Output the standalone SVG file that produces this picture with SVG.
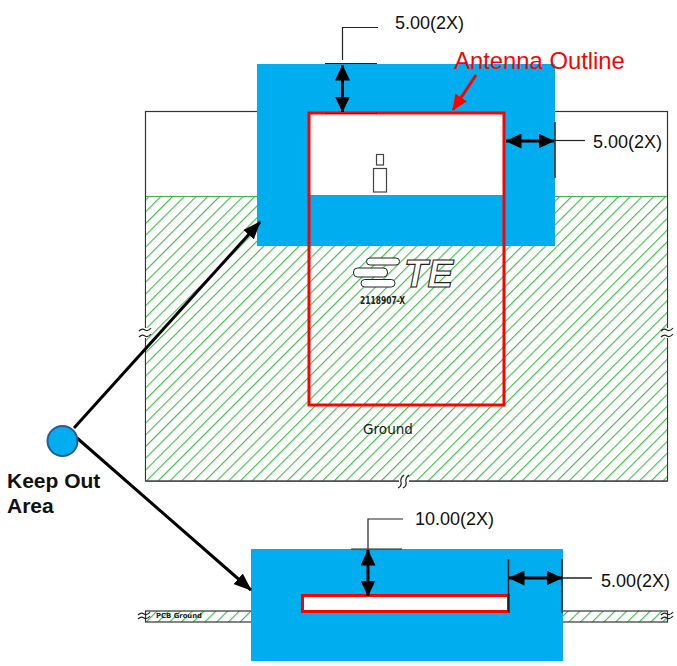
<svg xmlns="http://www.w3.org/2000/svg" width="677" height="666" viewBox="0 0 677 666">
<style>
.dim{font-family:"Liberation Sans",Arial,sans-serif;font-size:18px;fill:#111}
.cad{font-family:"DejaVu Sans",sans-serif;fill:#222}
.blue{fill:#00aeef}
.red{fill:none;stroke:#f00;stroke-width:3}
.thin{fill:none;stroke:#222;stroke-width:1.2}
.ext{fill:none;stroke:#222;stroke-width:1.5}
.dimline{stroke:#000;stroke-width:3;fill:none;marker-start:url(#ah);marker-end:url(#ah)}
.lead{stroke:#000;stroke-width:3;fill:none;marker-end:url(#lh)}
.bar{fill:#fff;stroke:#222;stroke-width:1}
</style>
<defs>
<pattern id="hatch" patternUnits="userSpaceOnUse" width="8.3" height="8.3" patternTransform="rotate(-45 145 481)">
<rect width="8.3" height="8.3" fill="#fff"/>
<line x1="0" y1="0.6" x2="8.3" y2="0.6" stroke="#3fb54a" stroke-width="1.1"/>
</pattern>
<marker id="ah" viewBox="0 0 16 15" refX="15.5" refY="7.5" markerUnits="userSpaceOnUse" markerWidth="16" markerHeight="15" orient="auto-start-reverse"><path d="M0 0L16 7.5L0 15Z" fill="#000"/></marker>
<marker id="lh" viewBox="0 0 18 14" refX="17" refY="7" markerUnits="userSpaceOnUse" markerWidth="18" markerHeight="14" orient="auto"><path d="M0 0L18 7L0 14Z" fill="#000"/></marker>
<marker id="rh" viewBox="0 0 16 14" refX="15" refY="7" markerUnits="userSpaceOnUse" markerWidth="16" markerHeight="14" orient="auto"><path d="M0 0L16 7L0 14Z" fill="#f00"/></marker>
</defs>
<g id="board">
<rect x="145.500" y="111.500" width="522" height="369.500" fill="#fff" stroke="#333" stroke-width="1.200"/>
<rect x="146" y="196" width="521" height="285" fill="url(#hatch)"/>
<line x1="146" y1="196.500" x2="667" y2="196.500" stroke="#3fb54a" stroke-width="1"/>
<line x1="145.500" y1="481" x2="667.500" y2="481" stroke="#444" stroke-width="1.500"/>
<rect x="143" y="328" width="5" height="10" fill="#fff"/>
<rect x="665" y="328" width="5" height="10" fill="#fff"/>
<rect x="399" y="477" width="10" height="7" fill="#fff"/>
<path class="thin" d="M139 331q3-3 6-1t6-2M139 337q3-3 6-1t6-2M661 331q3-3 6-1t6-2M661 337q3-3 6-1t6-2M398 488q4-2 3-6t3-7M403 488q4-2 3-6t3-7"/>
<text class="cad" x="388" y="434" font-size="13.500" text-anchor="middle" textLength="50" lengthAdjust="spacingAndGlyphs">Ground</text>
</g>
<g id="pcb-strip">
<rect x="145.500" y="611" width="522" height="11" fill="url(#hatch)" stroke="#333" stroke-width="1.200"/>
<path class="thin" d="M138 615q3-3 6-1t6-2M138 619q3-3 6-1t6-2M661 615q3-3 6-1t6-2M661 619q3-3 6-1t6-2"/>
<text class="cad" x="156" y="618" font-size="7" font-weight="bold" textLength="46" lengthAdjust="spacingAndGlyphs">PCB Ground</text>
</g>
<g id="keepout-top">
<path class="blue" fill-rule="evenodd" d="M257 64H555V246H257ZM309 113V195H504V113Z"/>
</g>
<g id="keepout-bottom">
<rect class="blue" x="251" y="549" width="312" height="112"/>
</g>
<g id="antenna-outline">
<rect class="red" x="309" y="113" width="195" height="292"/>
<text x="539.500" y="69" text-anchor="middle" font-family="'Liberation Sans',Arial,sans-serif" font-size="23.800" fill="#f00">Antenna Outline</text>
</g>
<g id="antenna-feature">
<rect x="376.500" y="154.500" width="7" height="10.500" fill="#fff" stroke="#444" stroke-width="1.200"/>
<rect x="373.500" y="168.500" width="13" height="23.500" fill="#fff" stroke="#444" stroke-width="1.200"/>
</g>
<g id="te-logo">
<rect class="bar" x="366.500" y="258" width="33" height="7" rx="3.500"/>
<rect class="bar" x="353.500" y="268" width="34" height="9" rx="4"/>
<rect class="bar" x="361" y="279.500" width="34" height="7.500" rx="3.700"/>
<text x="404" y="287" font-family="'Liberation Sans',Arial,sans-serif" font-size="39" font-weight="bold" font-style="italic" fill="#fff" stroke="#222" stroke-width="1.100" textLength="49" lengthAdjust="spacingAndGlyphs">TE</text>
<text class="cad" x="360" y="304" font-size="10" font-weight="bold" textLength="45" lengthAdjust="spacingAndGlyphs">2118907-X</text>
</g>
<g id="slot">
<rect x="302.500" y="595.500" width="206" height="16" fill="#fff" stroke="#f00" stroke-width="3"/>
</g>
<g id="connectors">
<path class="thin" d="M342.500 60V27.500H378M325 63.500H377M325 113.500H377"/>
<path class="dimline" d="M342.500 65V112"/>
<path class="thin" d="M555 140.500H585"/>
<line class="ext" x1="555" y1="122" x2="555" y2="178"/>
<path class="dimline" d="M506 141H554"/>
<path d="M476 75L453 110" stroke="#f00" stroke-width="3" fill="none" marker-end="url(#rh)"/>
<path class="lead" d="M74 428L260 222"/>
<path class="lead" d="M77 438L251 590"/>
<path class="thin" d="M368 549V519H403M351 549H402"/>
<path class="dimline" d="M368 550V596"/>
<path class="ext" d="M508.500 559V612M562 559V613M562 578H592"/>
<path class="dimline" d="M509 578H562"/>
</g>
<g id="keep-out-callout">
<circle cx="62.500" cy="441" r="15" fill="#00aeef" stroke="#2e5597" stroke-width="2"/>
<text x="7" y="488" font-family="'Liberation Sans',Arial,sans-serif" font-size="21" font-weight="bold" fill="#111">Keep Out</text>
<text x="7" y="513" font-family="'Liberation Sans',Arial,sans-serif" font-size="21" font-weight="bold" fill="#111">Area</text>
</g>
<g id="labels">
<text class="dim" x="395" y="29">5.00(2X)</text>
<text class="dim" x="593" y="148">5.00(2X)</text>
<text class="dim" x="415" y="525">10.00(2X)</text>
<text class="dim" x="601" y="587">5.00(2X)</text>
</g>
</svg>
